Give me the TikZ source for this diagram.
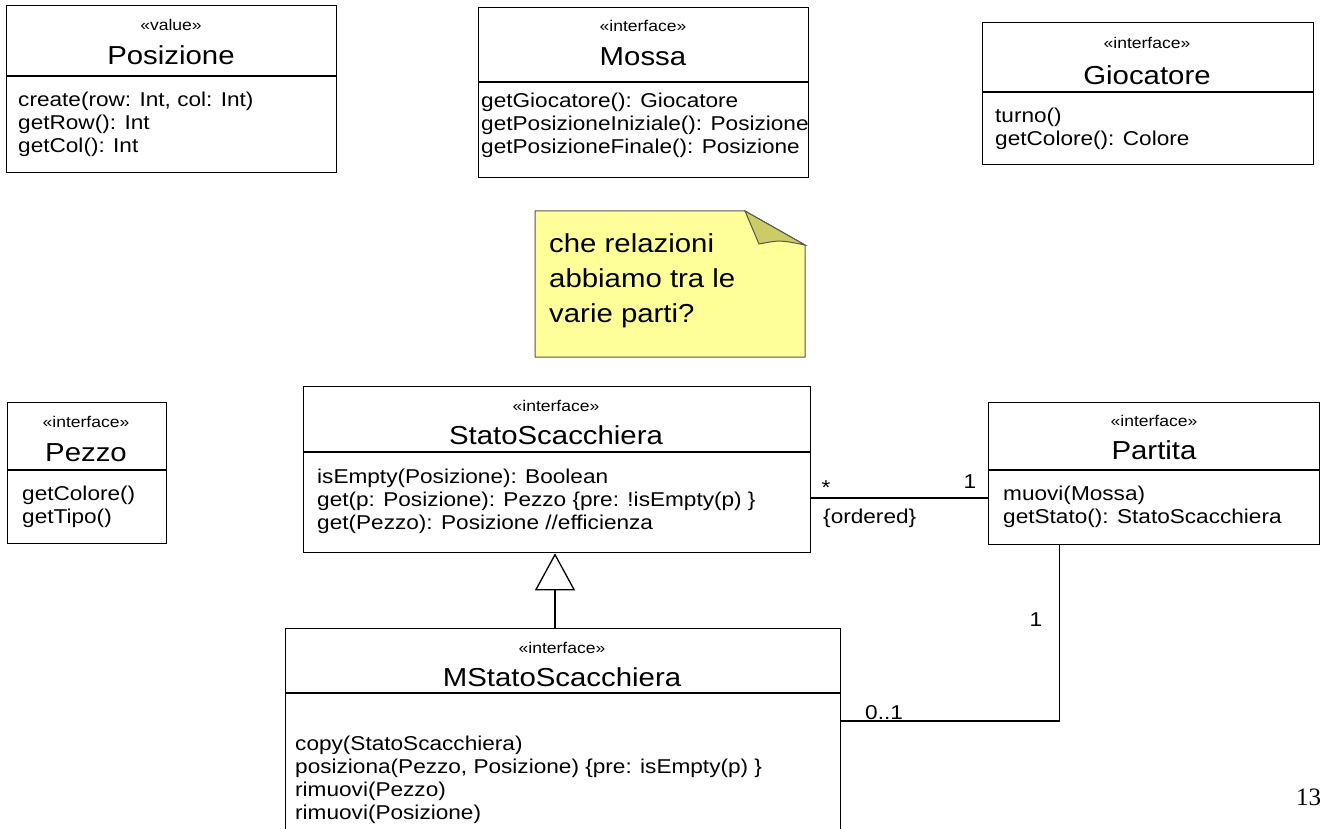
\documentclass[tikz,border=0pt]{standalone}
\usepackage{fontspec}
\setmainfont{Liberation Sans}[FakeStretch=1.13]
\newfontfamily\pagefont{Liberation Serif}
\usepackage{tikz}
\usetikzlibrary{arrows.meta,calc}

\definecolor{notefill}{HTML}{FFFF99}
\definecolor{notefold}{HTML}{CCCC66}
\definecolor{noteline}{HTML}{555555}

\tikzstyle{cls}     =[draw, line width=1.3pt, rectangle, anchor=north west, inner sep=0pt]
\tikzstyle{divline} =[line width=1.3pt]
\tikzstyle{stereo}  =[font=\fontsize{15.5}{18}\selectfont, inner sep=0pt]
\tikzstyle{cname}   =[font=\fontsize{26}{30}\selectfont, inner sep=0pt]
\tikzstyle{ops}     =[font=\fontsize{20}{23}\selectfont, align=left, anchor=north west, inner sep=0pt]
\tikzstyle{mult}    =[font=\fontsize{20}{23}\selectfont, inner sep=0pt]

\begin{document}
\begin{tikzpicture}[x=1pt, y=-1pt]

  \clip (0,0) rectangle (1322,829);

  % ── top row: value and interfaces ─────────────────────────────────────────
  \node[cls, minimum width=330pt, minimum height=167pt] (posizione) at (6,5) {};
  \draw[divline] (posizione.west |- 0,76) -- (posizione.east |- 0,76);
  \node[stereo] (posizione-st) at (171,25) {«value»};
  \node[cname]  (posizione-nm) at (171,55) {Posizione};
  \node[ops] (posizione-ops) at (18,92)
    {create(row: Int, col: Int)\\getRow(): Int\\getCol(): Int};

  \node[cls, minimum width=330pt, minimum height=170pt] (mossa) at (478,7) {};
  \draw[divline] (mossa.west |- 0,82) -- (mossa.east |- 0,82);
  \node[stereo] (mossa-st) at (643,26) {«interface»};
  \node[cname]  (mossa-nm) at (643,57) {Mossa};
  \node[ops] (mossa-ops) at (481,93)
    {getGiocatore(): Giocatore\\getPosizioneIniziale(): Posizione\\getPosizioneFinale(): Posizione};

  \node[cls, minimum width=331pt, minimum height=142pt] (giocatore) at (982,22) {};
  \draw[divline] (giocatore.west |- 0,92) -- (giocatore.east |- 0,92);
  \node[stereo] (giocatore-st) at (1147,43) {«interface»};
  \node[cname]  (giocatore-nm) at (1147,75) {Giocatore};
  \node[ops] (giocatore-ops) at (995,108) {turno()\\getColore(): Colore};

  % ── note ───────────────────────────────────────────────────────────────────
  \filldraw[fill=notefill, draw=noteline, line width=1pt]
    (535,211) -- (745,211) -- (805,245) -- (805,357) -- (535,357) -- cycle;
  \filldraw[fill=notefold, draw=noteline, line width=1pt]
    (745,211) .. controls (752,228) .. (759,244) .. controls (780,240) .. (805,245) -- cycle;
  \node[ops, font=\fontsize{26}{35}\selectfont] (domanda) at (549,233)
    {che relazioni\\abbiamo tra le\\varie parti?};

  % ── middle row ─────────────────────────────────────────────────────────────
  \node[cls, minimum width=159pt, minimum height=141pt] (pezzo) at (7,402) {};
  \draw[divline] (pezzo.west |- 0,470) -- (pezzo.east |- 0,470);
  \node[stereo] (pezzo-st) at (86,422) {«interface»};
  \node[cname]  (pezzo-nm) at (86,453) {Pezzo};
  \node[ops] (pezzo-ops) at (22,486) {getColore()\\getTipo()};

  \node[cls, minimum width=507pt, minimum height=166pt] (stato) at (303,386) {};
  \draw[divline] (stato.west |- 0,452) -- (stato.east |- 0,452);
  \node[stereo] (stato-st) at (556,406) {«interface»};
  \node[cname]  (stato-nm) at (556,435) {StatoScacchiera};
  \node[ops] (stato-ops) at (317,469)
    {isEmpty(Posizione): Boolean\\get(p: Posizione): Pezzo \{pre: !isEmpty(p) \}\\get(Pezzo): Posizione //efficienza};

  \node[cls, minimum width=331pt, minimum height=142pt] (partita) at (988,402) {};
  \draw[divline] (partita.west |- 0,470) -- (partita.east |- 0,470);
  \node[stereo] (partita-st) at (1154,421) {«interface»};
  \node[cname]  (partita-nm) at (1154,450) {Partita};
  \node[ops] (partita-ops) at (1003,486) {muovi(Mossa)\\getStato(): StatoScacchiera};

  % ── bottom ─────────────────────────────────────────────────────────────────
  \node[cls, minimum width=555pt, minimum height=220pt] (mstato) at (285,628) {};
  \draw[divline] (mstato.west |- 0,693) -- (mstato.east |- 0,693);
  \node[stereo] (mstato-st) at (562,648) {«interface»};
  \node[cname]  (mstato-nm) at (562,677) {MStatoScacchiera};
  \node[ops] (mstato-ops) at (295,736)
    {copy(StatoScacchiera)\\posiziona(Pezzo, Posizione) \{pre: isEmpty(p) \}\\rimuovi(Pezzo)\\rimuovi(Posizione)};

  % ── relations ──────────────────────────────────────────────────────────────
  \draw[line width=1.3pt, -{Triangle[open, length=37pt, width=40pt]}]
    (555,0 |- mstato.north) -- (555,0 |- stato.south);
  \draw[line width=1.3pt] (stato.east |- 0,498) -- (partita.west |- 0,498);
  \draw[line width=1.3pt] (mstato.east |- 0,721) -| ([xshift=-95pt]partita.south);

  \node[mult] (m-star)    at (826,488) {*};
  \node[mult] (m-one)     at (970,482) {1};
  \node[mult, anchor=west] (m-ordered) at (823,518) {\{ordered\}};
  \node[mult] (m-one-b)   at (1036,620) {1};
  \node[mult, anchor=base west] (m-zero) at (865,719) {0..1};

  \node[font=\pagefont\fontsize{25}{28}\selectfont, anchor=west, inner sep=0pt] (pagina) at (1296,797) {13};

\end{tikzpicture}
\end{document}
